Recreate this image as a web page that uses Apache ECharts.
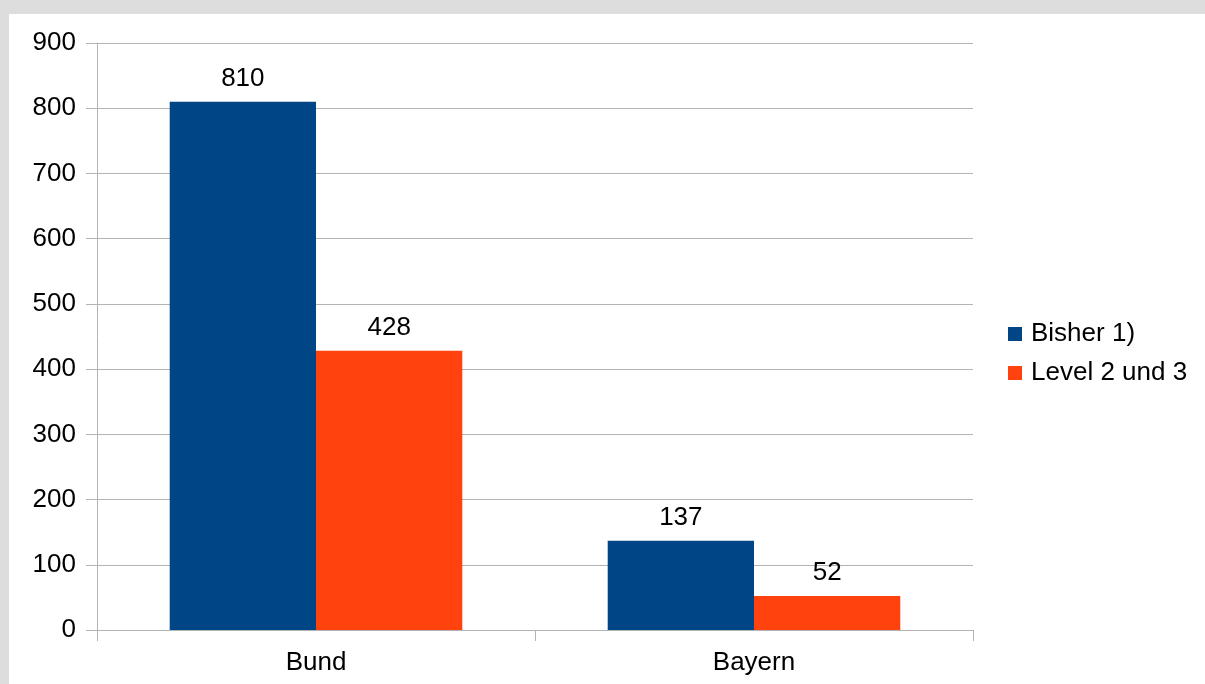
<!DOCTYPE html>
<html>
<head>
<meta charset="utf-8">
<script src="https://cdn.jsdelivr.net/npm/echarts@6/dist/echarts.min.js"></script>
<style>
html,body{margin:0;padding:0;background:#dddddd;}
#c{width:1205px;height:684px;}
</style>
</head>
<body>
<div id="c"></div>
<script>
const categories = ['Bund', 'Bayern'];
const seriesNames = ['Bisher 1)', 'Level 2 und 3'];
const bisher = [810, 137];
const level = [428, 52];
const yTicks = [0, 100, 200, 300, 400, 500, 600, 700, 800, 900];

const font = 'Liberation Sans, Arial, sans-serif';
const chart = echarts.init(document.getElementById('c'), null, {renderer: 'canvas'});
const labelStyle = {show: true, position: 'top', distance: 10, color: '#000', fontSize: 26, fontFamily: font};
chart.setOption({
  backgroundColor: '#dddddd',
  animation: false,
  graphic: [{type: 'rect', z: -10, shape: {x: 9, y: 14, width: 1196, height: 670}, style: {fill: '#ffffff'}}],
  grid: {left: 97, top: 43, width: 876, height: 587, containLabel: false},
  legend: {
    orient: 'vertical', left: 1008, top: 321, padding: 0, itemWidth: 14, itemHeight: 14, itemGap: 13,
    icon: 'rect',
    textStyle: {fontSize: 26, fontFamily: font, color: '#000', lineHeight: 26, padding: [0, 0, 0, 4]},
    data: seriesNames
  },
  xAxis: {
    type: 'category', data: categories,
    axisLine: {lineStyle: {color: '#b3b3b3', width: 1}},
    axisTick: {show: true, length: 11, lineStyle: {color: '#b3b3b3'}},
    axisLabel: {color: '#000', fontSize: 26, fontFamily: font, margin: 20},
    splitLine: {show: false}
  },
  yAxis: {
    type: 'value', min: yTicks[0], max: yTicks[yTicks.length - 1], interval: 100,
    axisLine: {show: true, lineStyle: {color: '#b3b3b3', width: 1}},
    axisTick: {show: true, length: 11, lineStyle: {color: '#b3b3b3'}},
    axisLabel: {color: '#000', fontSize: 26, fontFamily: font, margin: 21},
    splitLine: {show: true, lineStyle: {color: '#b3b3b3', width: 1}}
  },
  series: [
    {name: seriesNames[0], type: 'bar', data: bisher, barGap: '0%', barCategoryGap: '33.2%',
     itemStyle: {color: '#004586'}, label: labelStyle},
    {name: seriesNames[1], type: 'bar', data: level, barGap: '0%', barCategoryGap: '33.2%',
     itemStyle: {color: '#ff420e'}, label: labelStyle}
  ]
});
</script>
</body>
</html>
